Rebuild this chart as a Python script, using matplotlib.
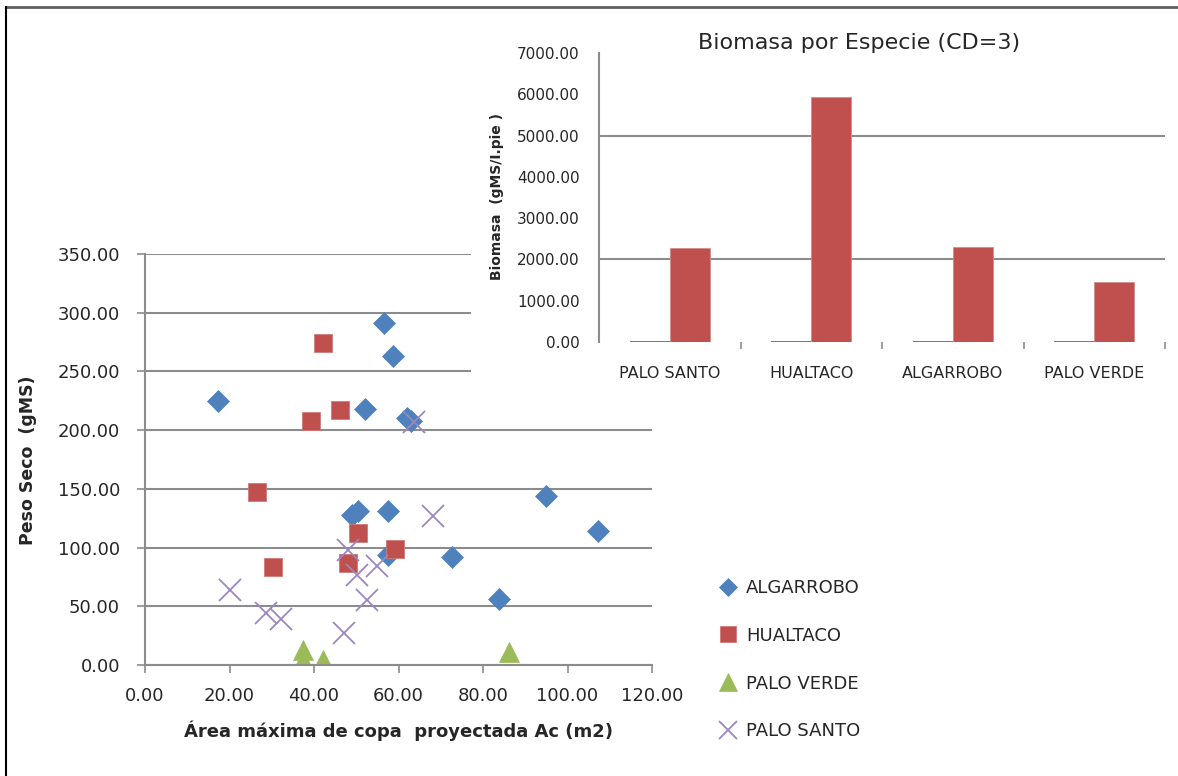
import matplotlib
matplotlib.use('Agg')
import matplotlib.pyplot as plt
import matplotlib.patches as mpatches
from matplotlib.lines import Line2D
import numpy as np

plt.rcParams.update({
    'font.family': 'DejaVu Sans',
    'font.size': 12,
})

# scatter data: Area maxima de copa (m2) vs Peso seco (gMS)
algarrobo_x = [17.3, 56.5, 58.6, 52.0, 62.0, 63.0, 48.9, 50.4, 57.4, 57.4, 72.6, 83.7, 94.8, 107.3]
algarrobo_y = [225, 291, 263, 218, 210, 208, 128, 131, 131, 94, 92, 56, 144, 114]
hualtaco_x = [42.1, 39.2, 46.1, 26.5, 30.3, 50.4, 48.0, 59.1]
hualtaco_y = [274, 208, 217, 147.5, 83.5, 112.5, 87, 99]
palo_verde_x = [37.4, 37.4, 42.1, 86.1]
palo_verde_y = [13, 4, 4, 11]
palo_santo_x = [20.1, 28.6, 32.2, 47.0, 48.0, 50.1, 54.8, 52.5, 68.1, 63.7]
palo_santo_y = [64, 44, 39, 27, 98, 77, 84, 55.5, 127, 207]

# inset bar data: Biomasa por especie (CD=3)
especies = ['PALO SANTO', 'HUALTACO', 'ALGARROBO', 'PALO VERDE']
biomasa_base = [20, 20, 20, 20]
biomasa = [2270, 5930, 2300, 1450]

BLUE = '#4F81BD'
RED = '#C0504D'
GREEN = '#9BBB59'
PURPLE = '#9B86C2'
GRID = '#8C8C8C'
TXT = '#262626'

W, H = 1178, 776
fig = plt.figure(figsize=(W / 100, H / 100), dpi=100)


def fx(px):
    return px / W


def fy(py):
    return 1 - py / H


# ---- scatter ----
ax = fig.add_axes([fx(145), fy(665), fx(652) - fx(145), fy(254) - fy(665)])
ax.set_zorder(0)
ax.plot(algarrobo_x, algarrobo_y, 'D', color=BLUE, ms=11, mec=BLUE, mew=0.5, label='ALGARROBO')
ax.plot(hualtaco_x, hualtaco_y, 's', color=RED, ms=13, mec='#D07A78', mew=0.6, label='HUALTACO')
ax.plot(palo_verde_x, palo_verde_y, '^', color=GREEN, ms=15, mec=GREEN, mew=0.5, label='PALO VERDE')
ax.plot(palo_santo_x, palo_santo_y, 'x', color=PURPLE, ms=16, mew=1.3, label='PALO SANTO')

ax.set_xlim(0, 120)
ax.set_ylim(0, 350)
ax.set_xticks(np.arange(0, 121, 20))
ax.set_yticks(np.arange(0, 351, 50))
ax.set_xticklabels([f'{v:.2f}' for v in np.arange(0, 121, 20)])
ax.set_yticklabels([f'{v:.2f}' for v in np.arange(0, 351, 50)])
ax.yaxis.grid(True, color=GRID, lw=1.5)
ax.set_axisbelow(True)
for s in ['top', 'right']:
    ax.spines[s].set_visible(False)
for s in ['left', 'bottom']:
    ax.spines[s].set_color(GRID)
    ax.spines[s].set_linewidth(1.5)
ax.tick_params(axis='y', length=6, width=1.2, color=GRID, pad=12, labelsize=13, labelcolor=TXT)
ax.tick_params(axis='x', length=6, width=1.2, color=GRID, pad=10, labelsize=13, labelcolor=TXT)
ax.set_xlabel('Área máxima de copa  proyectada Ac (m2)', fontsize=13, fontweight='bold',
              color=TXT, labelpad=11)
fig.text(fx(28), fy(460), 'Peso Seco  (gMS)', rotation=90, fontsize=12.5, fontweight='bold',
         color=TXT, ha='center', va='center')

handles, labels = ax.get_legend_handles_labels()
fig.legend(handles, labels, loc='upper left', bbox_to_anchor=(fx(719), fy(579)),
           frameon=False, fontsize=13, labelspacing=1.65, handlelength=1.0,
           handletextpad=0.5, borderaxespad=0, borderpad=0, numpoints=1,
           markerscale=0.85, labelcolor=TXT)

# white chart area of the inset hides the scatter grid behind it
cover = mpatches.Rectangle((fx(471), fy(398)), fx(1172) - fx(471), fy(10) - fy(398),
                           transform=fig.transFigure, facecolor='white', edgecolor='none',
                           zorder=0.5)
fig.add_artist(cover)

# ---- inset bars ----
ax2 = fig.add_axes([fx(599), fy(342), fx(1165) - fx(599), fy(53) - fy(342)])
ax2.set_zorder(1)
x = np.arange(len(especies))
bw = 0.283
ax2.bar(x - bw / 2, biomasa_base, bw, color=BLUE)
ax2.bar(x + bw / 2, biomasa, bw, color=RED, edgecolor='#D08C8A', linewidth=0.6)
for g in [2000, 5000]:
    ax2.axhline(g, color=GRID, lw=1.5, zorder=0)
ax2.set_xlim(-0.5, 3.5)
ax2.set_ylim(0, 7000)
ax2.set_yticks(np.arange(0, 7001, 1000))
ax2.set_yticklabels([f'{v:.2f}' for v in np.arange(0, 7001, 1000)])
ax2.set_xticks(x)
ax2.set_xticklabels(especies)
ax2.set_xticks(x + 0.5, minor=True)
for s in ['top', 'right', 'bottom']:
    ax2.spines[s].set_visible(False)
ax2.spines['left'].set_color(GRID)
ax2.spines['left'].set_linewidth(1.5)
ax2.spines['left'].set_bounds(0, 7000)
ax2.tick_params(axis='y', length=0, pad=14, labelsize=11, labelcolor=TXT)
ax2.tick_params(axis='x', which='major', length=0, pad=17, labelsize=11.5, labelcolor=TXT)
ax2.tick_params(axis='x', which='minor', length=5, width=1.2, color=GRID)
fig.text(fx(859), fy(43), 'Biomasa por Especie (CD=3)', fontsize=16, color=TXT,
         ha='center', va='center')
fig.text(fx(497), fy(197), 'Biomasa  (gMS/I.pie )', rotation=90, fontsize=10,
         fontweight='bold', color=TXT, ha='center', va='center')

# outer frame (top and left edges)
fig.add_artist(Line2D([fx(6), fx(1178)], [fy(7), fy(7)], transform=fig.transFigure,
                      color='#606060', lw=2))
fig.add_artist(Line2D([fx(6), fx(6)], [fy(7), 0], transform=fig.transFigure,
                      color='black', lw=1.5))

fig.savefig('out.png', dpi=100)
